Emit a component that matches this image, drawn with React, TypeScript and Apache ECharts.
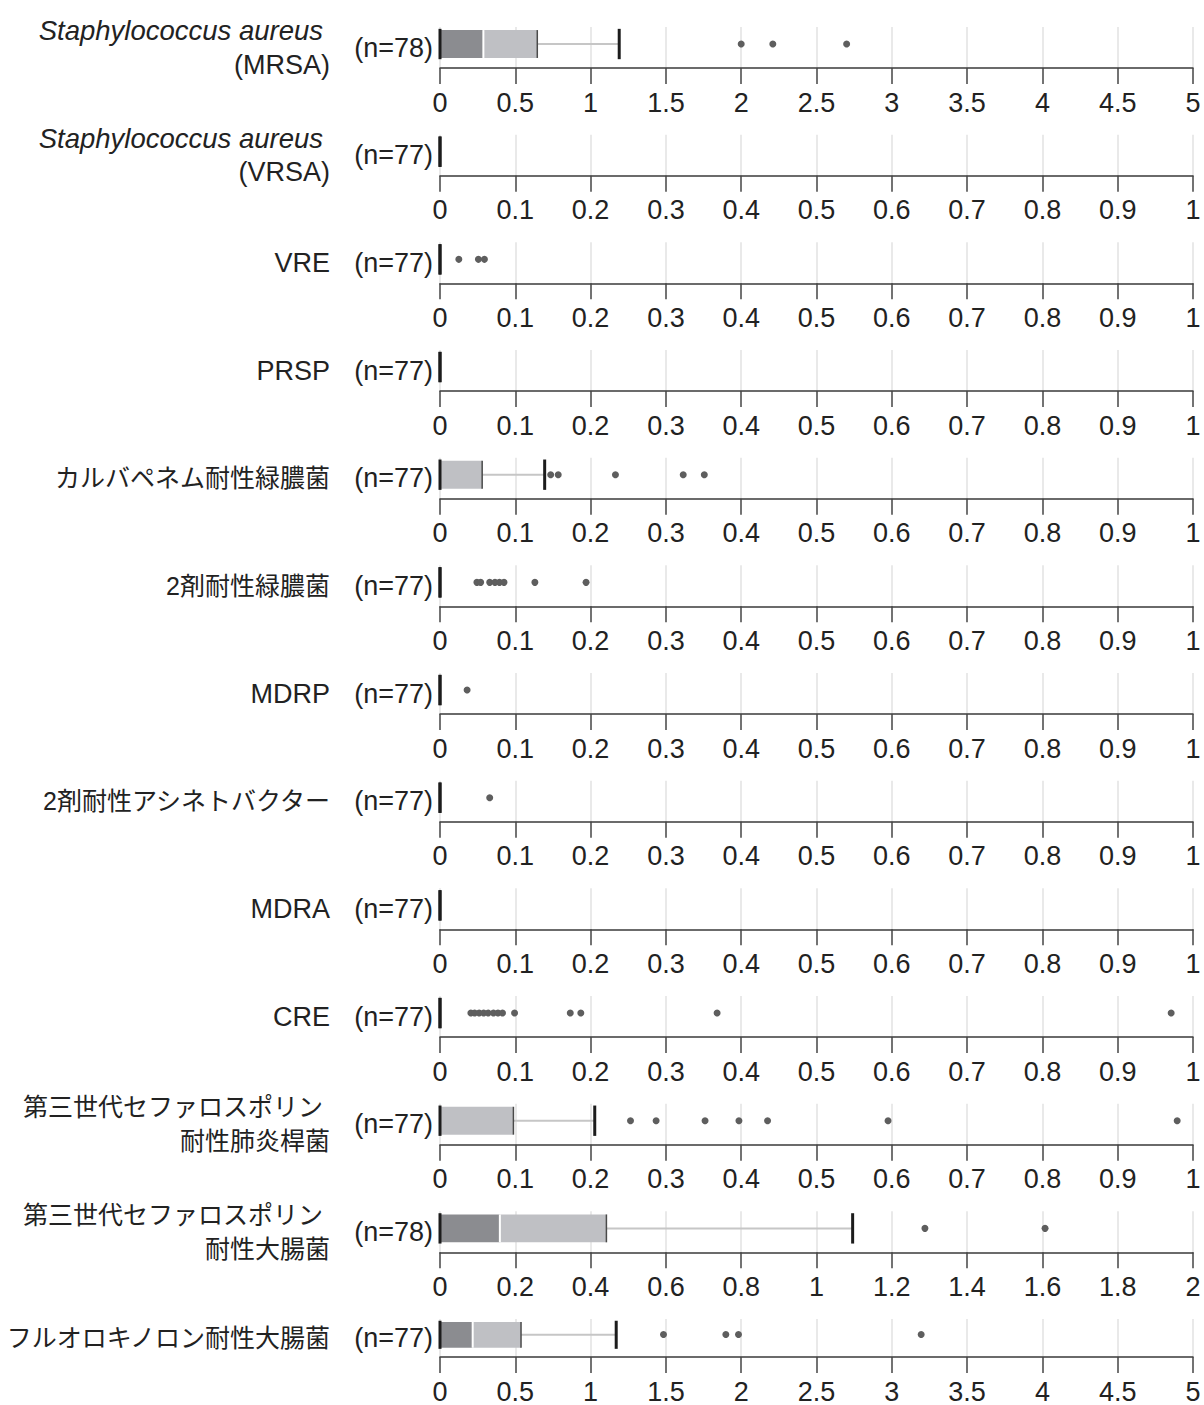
import React, { useEffect, useRef } from "react";
import * as echarts from "echarts";

const categoryNames = [
  "Staphylococcus aureus\n(MRSA)",
  "Staphylococcus aureus\n(VRSA)",
  "VRE",
  "PRSP",
  "カルバペネム耐性緑膿菌",
  "2剤耐性緑膿菌",
  "MDRP",
  "2剤耐性アシネトバクター",
  "MDRA",
  "CRE",
  "第三世代セファロスポリン\n耐性肺炎桿菌",
  "第三世代セファロスポリン\n耐性大腸菌",
  "フルオロキノロン耐性大腸菌",
];
const sampleSizes = [78, 77, 77, 77, 77, 77, 77, 77, 77, 77, 77, 78, 77];
const axisMaxima = [5, 1, 1, 1, 1, 1, 1, 1, 1, 1, 1, 2, 5];
const axisIntervals = [0.5, 0.1, 0.1, 0.1, 0.1, 0.1, 0.1, 0.1, 0.1, 0.1, 0.1, 0.2, 0.5];

const whiskerLow = [0, 0, 0, 0, 0, 0, 0, 0, 0, 0, 0, 0, 0];
const quartile1 = [0, 0, 0, 0, 0, 0, 0, 0, 0, 0, 0, 0, 0];
const medians = [0.288, 0, 0, 0, 0, 0, 0, 0, 0, 0, 0, 0.159, 0.217];
const quartile3 = [0.646, 0, 0, 0, 0.056, 0, 0, 0, 0, 0, 0.0975, 0.442, 0.538];
const whiskerHigh = [1.19, 0, 0, 0, 0.139, 0, 0, 0, 0, 0, 0.2055, 1.096, 1.17];

const outliers: number[][] = [
  [2.0, 2.21, 2.7],
  [],
  [0.025, 0.051, 0.059],
  [],
  [0.147, 0.157, 0.233, 0.323, 0.351],
  [0.049, 0.054, 0.066, 0.073, 0.079, 0.085, 0.126, 0.194],
  [0.036],
  [0.066],
  [],
  [0.041, 0.046, 0.052, 0.058, 0.064, 0.071, 0.077, 0.083, 0.099, 0.173, 0.187, 0.368, 0.971],
  [0.253, 0.287, 0.352, 0.397, 0.435, 0.595, 0.979],
  [1.288, 1.607],
  [1.484, 1.898, 1.982, 3.195],
];

const FONT = "'Liberation Sans', Arial, 'Noto Sans CJK JP', sans-serif";
const PANEL_STEP = 107.67;
const GRID_TOP = 27;
const GRID_H = 41;

function renderBox(params: any, api: any) {
  const lo = api.value(1);
  const q1 = api.value(2);
  const med = api.value(3);
  const q3 = api.value(4);
  const hi = api.value(5);
  const c = api.coord([lo, 0]);
  const band = api.size([0, 1])[1];
  const cy = c[1] - band * 0.085;
  const boxH = band * 0.68;
  const capH = band * 0.74;
  const X = (v: number) => api.coord([v, 0])[0];
  const children: any[] = [];
  if (med > q1) {
    children.push({
      type: "rect",
      shape: { x: X(q1), y: cy - boxH / 2, width: X(med) - X(q1), height: boxH },
      style: { fill: "#8b8c90" },
    });
  }
  if (q3 > med) {
    children.push({
      type: "rect",
      shape: { x: X(med), y: cy - boxH / 2, width: X(q3) - X(med), height: boxH },
      style: { fill: "#bfc0c4" },
    });
  }
  if (med > q1 && q3 > med) {
    children.push({
      type: "line",
      shape: { x1: X(med), y1: cy - boxH / 2, x2: X(med), y2: cy + boxH / 2 },
      style: { stroke: "#ffffff", lineWidth: 2 },
    });
  }
  if (hi > q3) {
    children.push({
      type: "line",
      shape: { x1: X(q3), y1: cy, x2: X(hi), y2: cy },
      style: { stroke: "#c6c6c6", lineWidth: 2 },
    });
  }
  if (q3 > q1) {
    children.push({
      type: "line",
      shape: { x1: X(q3), y1: cy - boxH / 2, x2: X(q3), y2: cy + boxH / 2 },
      style: { stroke: "#4a4a4a", lineWidth: 1.5 },
    });
  }
  [lo, hi].forEach((v) => {
    children.push({
      type: "line",
      shape: { x1: X(v), y1: cy - capH / 2, x2: X(v), y2: cy + capH / 2 },
      style: { stroke: "#1c1c1c", lineWidth: 3 },
    });
  });
  return { type: "group", children };
}

function nameFormatter(value: string) {
  const lines = value.split("\n");
  return lines
    .map((line, k) => {
      const first = lines.length > 1 && k === 0 ? "F" : "";
      if (line.startsWith("Staphylococcus")) return `{it${first}|${line}}`;
      if (/[^\x00-\x7F]/.test(line)) return `{jp${first}|${line}}`;
      return `{rm${first}|${line}}`;
    })
    .join("\n");
}

const baseRich = { color: "#222", fontFamily: FONT, lineHeight: 34, align: "right" };

export default function App() {
  const ref = useRef<HTMLDivElement>(null);
  useEffect(() => {
    if (!ref.current) return;
    const chart = echarts.init(ref.current, undefined, { renderer: "svg" });
    const grids: any[] = [];
    const xAxes: any[] = [];
    const yAxes: any[] = [];
    const series: any[] = [];
    categoryNames.forEach((name, i) => {
      grids.push({
        left: 440,
        right: 11,
        top: GRID_TOP + i * PANEL_STEP,
        height: GRID_H,
        containLabel: false,
      });
      xAxes.push({
        type: "value",
        gridIndex: i,
        min: 0,
        max: axisMaxima[i],
        interval: axisIntervals[i],
        axisLine: { show: true, lineStyle: { color: "#3a3a3a", width: 1.5 } },
        axisTick: { show: true, length: 16, lineStyle: { color: "#444", width: 1.5 } },
        axisLabel: { fontSize: 27, color: "#222", margin: 21, fontFamily: FONT, showMaxLabel: true, showMinLabel: true },
        splitLine: { show: true, lineStyle: { color: "#e2e2e2", width: 1.5 } },
      });
      yAxes.push({
        type: "category",
        gridIndex: i,
        data: [`(n=${sampleSizes[i]})`],
        axisLine: { show: false },
        axisTick: { show: false },
        splitLine: { show: false },
        axisLabel: { fontSize: 27, color: "#222", margin: 7, fontFamily: FONT },
      });
      yAxes.push({
        type: "category",
        gridIndex: i,
        position: "left",
        offset: 102,
        data: [name],
        axisLine: { show: false },
        axisTick: { show: false },
        splitLine: { show: false },
        axisLabel: {
          margin: 8,
          align: "right",
          formatter: nameFormatter,
          rich: {
            it: { ...baseRich, fontSize: 27.5, fontStyle: "italic" },
            itF: { ...baseRich, fontSize: 27.5, fontStyle: "italic", padding: [0, 7, 0, 0] },
            rm: { ...baseRich, fontSize: 27 },
            rmF: { ...baseRich, fontSize: 27, padding: [0, 7, 0, 0] },
            jp: { ...baseRich, fontSize: 25 },
            jpF: { ...baseRich, fontSize: 25, padding: [0, 7, 0, 0] },
          },
        },
      });
      series.push({
        type: "custom",
        xAxisIndex: i,
        yAxisIndex: 2 * i,
        renderItem: renderBox,
        encode: { x: [1, 2, 3, 4, 5], y: 0 },
        data: [[0, whiskerLow[i], quartile1[i], medians[i], quartile3[i], whiskerHigh[i]]],
        z: 3,
      });
      series.push({
        type: "scatter",
        xAxisIndex: i,
        yAxisIndex: 2 * i,
        symbol: "circle",
        symbolSize: 7,
        symbolOffset: [0, -3.5],
        itemStyle: { color: "#5e5e5e", opacity: 1 },
        data: outliers[i].map((v) => [v, 0]),
        z: 4,
      });
    });
    chart.setOption({
      animation: false,
      backgroundColor: "#ffffff",
      grid: grids,
      xAxis: xAxes,
      yAxis: yAxes,
      series,
    });
    return () => chart.dispose();
  }, []);
  return (
    <div
      ref={ref}
      style={{ position: "absolute", left: 0, top: 0, width: 1204, height: 1405, background: "#fff" }}
    />
  );
}
